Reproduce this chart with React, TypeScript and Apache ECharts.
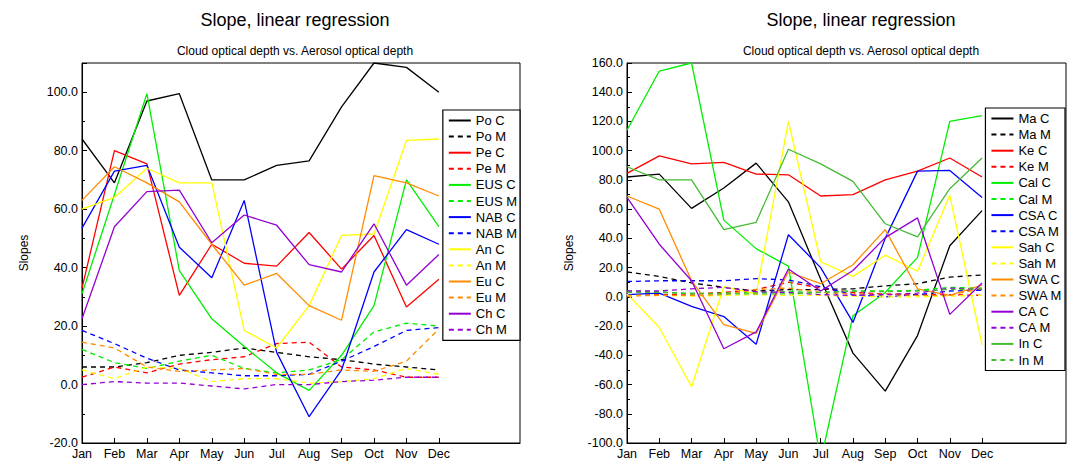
import React, { useEffect, useRef } from "react";
import * as echarts from "echarts";

const months = ["Jan","Feb","Mar","Apr","May","Jun","Jul","Aug","Sep","Oct","Nov","Dec"];
const monthIdx = [0,1,2,3,4,5,6,7,8,9,10,11];

const leftNames = ["Po C","Po M","Pe C","Pe M","EUS C","EUS M","NAB C","NAB M","An C","An M","Eu C","Eu M","Ch C","Ch M"];
const poC = [84,69,97,99.5,70,70,75,76.5,95,110,108.5,100];
const poM = [6,6,7.5,10,11,12.5,11,9.5,8.5,7,6,5];
const peC = [33,80,75.5,30.5,48,41.5,40.5,52,39.5,51,26.5,36];
const peM = [2.5,6,4,7,8.5,9.5,14,14.5,6,5,2.5,2.5];
const eusC = [31,65,99.5,39,22.5,13,4,-2,10,27,70,54];
const eusM = [12,7.5,5.5,8,10,5.5,4,5,8.5,18,21,20];
const nabC = [53.5,73,75,47,36.5,63,11,-11,5,38.5,53,48];
const nabM = [18.5,14,9,5,4,3,3,3.5,8,13,18.5,19.5];
const anC = [60,64,74,69,69,18.5,12.5,27,51,51.5,83.5,84];
const anM = [5,2,6,5.5,1,2,2,0.5,1,2,5.5,3.5];
const euC = [63,74.5,69,62.5,48,34,38,27,22,71.5,69,64.5];
const euM = [14.5,12.5,6,4.5,5,5.5,3.5,3.5,5,4.5,8,19];
const chC = [22.5,54,66,66.5,48.5,58,54.5,41,38.5,55,34,44.5];
const chM = [0,1,0.5,0.5,-0.5,-1.5,0,0,1,1.5,2.5,2.5];
const leftData = [poC,poM,peC,peM,eusC,eusM,nabC,nabM,anC,anM,euC,euM,chC,chM];
const leftColors = ["#000000","#000000","#ff0000","#ff0000","#00ee00","#00ee00","#0000ff","#0000ff","#ffff00","#ffff00","#ff8c00","#ff8c00","#9400d3","#9400d3"];

const rightNames = ["Ma C","Ma M","Ke C","Ke M","Cal C","Cal M","CSA C","CSA M","Sah C","Sah M","SWA C","SWA M","CA C","CA M","In C","In M"];
const maC = [82,84,60.5,74.5,91.5,65,12,-38.5,-64.5,-26.5,35,59];
const maM = [17,14,9.5,6.5,4,5,5,5.5,7.5,9,13.5,15];
const keC = [84.5,96.5,91,92,84,83.5,69,70,80,86,95,82];
const keM = [1,1.5,2,3,5,10,6,3,2,1.5,1.5,1];
const calC = [114,154.5,160,52.5,33,21,-112,-13,3,27,120,124];
const calM = [4,3.5,2,2.5,3,3.5,3,4,4,4.5,6.5,6];
const csaC = [1.5,2.5,-6.5,-13.5,-32.5,42.5,20,-17.5,40,86,86.5,68];
const csaM = [10.5,11,11,11,12.5,11.5,7,1.5,0,1.5,4,4.5];
const sahC = [2,-21,-61.5,7,2,120,24,14,28.5,17.5,69.5,-33];
const sahM = [1,1,0.5,1,1.5,1,1,0.5,0,0,0.5,1];
const swaC = [69,60,11,-19,-25,17,9,22,46,5.5,1,8];
const swaM = [0.5,1,1,1.5,5,6,3,2,1.5,1,1,6];
const caC = [68,36,11,-35.5,-24,19,4,18,40.5,54,-12,9.5];
const caM = [4,4,5.5,6.5,3.5,3,1.5,1,1.5,2.5,6,5];
const inC = [89,80,80,46,51,101,91,79,50,41,74,95];
const inM = [3,3,2.5,2,2,2,3,4,3.5,4,5,5.5];
const rightData = [maC,maM,keC,keM,calC,calM,csaC,csaM,sahC,sahM,swaC,swaM,caC,caM,inC,inM];
const rightColors = ["#000000","#000000","#ff0000","#ff0000","#00ee00","#00ee00","#0000ff","#0000ff","#ffff00","#ffff00","#ff8c00","#ff8c00","#9400d3","#9400d3","#44bb33","#44bb33"];

const FONT = "Liberation Sans, Arial, sans-serif";

function xAxis(gi: number, max: number) {
  return {
    type: "value", gridIndex: gi, min: 0, max, interval: 1,
    axisLine: { onZero: false, lineStyle: { color: "#000" } },
    axisTick: { inside: true, length: 5, customValues: monthIdx, lineStyle: { color: "#000" } },
    axisLabel: { color: "#000", fontFamily: FONT, fontSize: 12.5, margin: 4, customValues: monthIdx,
      formatter: (v: number) => (Number.isInteger(v) && v >= 0 && v < 12 ? months[v] : "") },
    splitLine: { show: false },
  };
}
function yAxis(gi: number, min: number, max: number, lim: number) {
  return {
    type: "value", gridIndex: gi, min, max, interval: 20,
    name: "Slopes", nameLocation: "middle", nameGap: 52, nameRotate: 90,
    nameTextStyle: { color: "#000", fontFamily: FONT, fontSize: 12 },
    axisLine: { show: true, onZero: false, lineStyle: { color: "#000" } },
    axisTick: { show: true, inside: true, length: 5, lineStyle: { color: "#000" } },
    minorTick: { show: true, splitNumber: 2, length: 3, lineStyle: { color: "#000" } },
    axisLabel: { color: "#000", fontFamily: FONT, fontSize: 12.5, margin: 4,
      formatter: (v: number) => (v > lim ? "" : v.toFixed(1)) },
    splitLine: { show: false },
  };
}

export default function App() {
  const ref = useRef<HTMLDivElement>(null);
  useEffect(() => {
    const chart = echarts.init(ref.current!, null, { renderer: "svg" });
    const mk = (names: string[], data: number[][], colors: string[], gi: number) =>
      names.map((n, i) => ({
        name: n, type: "line", xAxisIndex: gi, yAxisIndex: gi, symbol: "none",
        data: data[i].map((v, k) => [k, v]),
        lineStyle: { color: colors[i], width: 1.3, type: n.endsWith("M") ? [5, 4] : "solid" },
        itemStyle: { color: colors[i] },
      }));
    const legendBase = {
      orient: "vertical", itemWidth: 22, itemHeight: 10, itemGap: 3.1,
      backgroundColor: "#fff", borderColor: "#000", borderWidth: 1.2, borderRadius: 0,
      padding: [4, 3, 4, 5],
      itemStyle: { opacity: 0 },
      textStyle: { color: "#000", fontFamily: FONT, fontSize: 13 },
    };
    chart.setOption({
      animation: false,
      backgroundColor: "#fff",
      title: [
        { text: "Slope, linear regression", left: 290, top: 6, textAlign: "center",
          textStyle: { fontFamily: FONT, fontSize: 18, fontWeight: "normal", color: "#000" } },
        { text: "Cloud optical depth vs. Aerosol optical depth", left: 290, top: 40, textAlign: "center",
          textStyle: { fontFamily: FONT, fontSize: 12, fontWeight: "normal", color: "#000" } },
        { text: "Slope, linear regression", left: 856, top: 6, textAlign: "center",
          textStyle: { fontFamily: FONT, fontSize: 18, fontWeight: "normal", color: "#000" } },
        { text: "Cloud optical depth vs. Aerosol optical depth", left: 856, top: 40, textAlign: "center",
          textStyle: { fontFamily: FONT, fontSize: 12, fontWeight: "normal", color: "#000" } },
      ],
      grid: [
        { left: 82, right: 549, top: 63, bottom: 18, show: true, borderColor: "#000", borderWidth: 1 },
        { left: 627, right: 3, top: 63, bottom: 18, show: true, borderColor: "#000", borderWidth: 1 },
      ],
      xAxis: [xAxis(0, 13.5), xAxis(1, 13.6)],
      yAxis: [yAxis(0, -20, 110, 100), yAxis(1, -100, 160, 160)],
      legend: [
        { ...legendBase, data: leftNames, right: 549, top: 110 },
        { ...legendBase, data: rightNames, right: 4, top: 108 },
      ],
      series: [...mk(leftNames, leftData, leftColors, 0), ...mk(rightNames, rightData, rightColors, 1)],
    });
    return () => chart.dispose();
  }, []);
  return <div ref={ref} style={{ position: "fixed", left: 0, top: 0, width: 1069, height: 461 }} />;
}
